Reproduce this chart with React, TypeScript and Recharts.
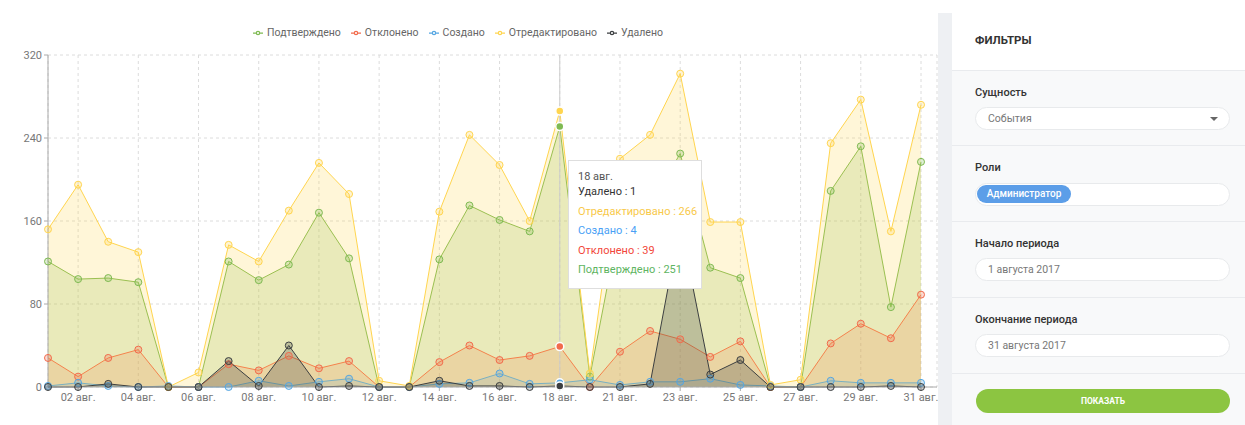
import React from "react";
import {
  Area,
  AreaChart,
  CartesianGrid,
  Legend,
  Tooltip,
  XAxis,
  YAxis,
} from "recharts";

const days = [
  "01 авг.", "02 авг.", "03 авг.", "04 авг.", "05 авг.", "06 авг.", "07 авг.", "08 авг.",
  "09 авг.", "10 авг.", "11 авг.", "12 авг.", "13 авг.", "14 авг.", "15 авг.", "16 авг.",
  "17 авг.", "18 авг.", "20 авг.", "21 авг.", "22 авг.", "23 авг.", "24 авг.", "25 авг.",
  "26 авг.", "27 авг.", "28 авг.", "29 авг.", "30 авг.", "31 авг.",
];
const tickDays = [
  "02 авг.", "04 авг.", "06 авг.", "08 авг.", "10 авг.", "12 авг.", "14 авг.", "16 авг.",
  "18 авг.", "21 авг.", "23 авг.", "25 авг.", "27 авг.", "29 авг.", "31 авг.",
];
const yTicks = [0, 80, 160, 240, 320];

const confirmed = [121, 104, 105, 101, 0, 0, 121, 103, 118, 168, 124, 0, 0, 123, 175, 161, 150, 251, 10, 160, 175, 225, 115, 105, 0, 0, 189, 232, 77, 217];
const rejected = [28, 10, 28, 36, 0, 0, 22, 16, 30, 18, 25, 0, 0, 24, 40, 26, 30, 39, 0, 34, 54, 46, 29, 44, 0, 0, 42, 61, 47, 89];
const created = [1, 4, 1, 0, 1, 0, 0, 6, 1, 5, 8, 0, 0, 3, 4, 13, 3, 4, 7, 2, 5, 5, 8, 2, 1, 0, 6, 4, 4, 4];
const edited = [152, 195, 140, 130, 0, 14, 137, 121, 170, 216, 186, 6, 1, 169, 243, 214, 160, 266, 13, 220, 243, 302, 159, 159, 2, 7, 235, 277, 150, 272];
const deleted = [0, 0, 3, 0, 0, 0, 25, 1, 40, 0, 1, 0, 0, 6, 1, 1, 0, 1, 0, 0, 3, 158, 12, 26, 0, 0, 0, 0, 1, 0];

// legend order; the tooltip lists them the other way round
const series = [
  { key: "confirmed", name: "Подтверждено", stroke: "#7fba52", text: "#5eb562", opacity: 0.22 },
  { key: "rejected", name: "Отклонено", stroke: "#f26b4c", text: "#f2473a", opacity: 0.2 },
  { key: "created", name: "Создано", stroke: "#55a6e2", text: "#4a9ff5", opacity: 0.2 },
  { key: "edited", name: "Отредактировано", stroke: "#ffd54f", text: "#f8c94a", opacity: 0.22 },
  { key: "deleted", name: "Удалено", stroke: "#3c3f41", text: "#333333", opacity: 0.25 },
];

const data = days.map((day, i) => ({
  day,
  confirmed: confirmed[i],
  rejected: rejected[i],
  created: created[i],
  edited: edited[i],
  deleted: deleted[i],
}));

const FONT = "Roboto, sans-serif";

function EventsTooltip({ active, payload, label }: any) {
  if (!active || !payload?.length) return null;
  const items = [...payload].reverse();
  return (
    <div
      style={{
        width: 134,
        boxSizing: "border-box",
        background: "#fff",
        border: "1px solid #dedede",
        padding: "10px 9px 8px",
        fontFamily: FONT,
        fontSize: 11,
        whiteSpace: "nowrap",
      }}
    >
      <div style={{ lineHeight: "11px", color: "#555" }}>{label}</div>
      {items.map((p: any) => {
        const s = series.find((x) => x.key === p.dataKey);
        return (
          <div key={p.dataKey} style={{ lineHeight: "19.5px", color: s?.text }}>
            {p.name} : {p.value}
          </div>
        );
      })}
    </div>
  );
}

function Field({ top, label, children }: { top: number; label: string; children: React.ReactNode }) {
  return (
    <>
      <div style={{ position: "absolute", left: 975, top: top - 7, fontSize: 11, fontWeight: 500, color: "#333", lineHeight: "14px" }}>
        {label}
      </div>
      {children}
    </>
  );
}

function Input({ top, children }: { top: number; children: React.ReactNode }) {
  return (
    <div
      style={{
        position: "absolute",
        left: 975,
        top,
        width: 255,
        height: 23,
        boxSizing: "border-box",
        background: "#fff",
        border: "1px solid #e8eaec",
        borderRadius: 12,
        fontSize: 10.5,
        color: "#777",
        lineHeight: "21px",
        paddingLeft: 12,
      }}
    >
      {children}
    </div>
  );
}

function FilterPanel() {
  const sep = (y: number) => (
    <div key={y} style={{ position: "absolute", left: 952, top: y, width: 293, height: 1, background: "#e9ebee" }} />
  );
  return (
    <div style={{ fontFamily: FONT }}>
      <div style={{ position: "absolute", left: 938, top: 13, width: 14, height: 412, background: "#eef0f3" }} />
      <div style={{ position: "absolute", left: 952, top: 13, width: 293, height: 57, background: "#fff" }} />
      <div style={{ position: "absolute", left: 952, top: 70, width: 293, height: 355, background: "#f8f9fa" }} />
      {[70, 145, 221, 297, 373].map(sep)}
      <div style={{ position: "absolute", left: 975, top: 33, fontSize: 11.5, fontWeight: 700, color: "#333", lineHeight: "14px" }}>
        ФИЛЬТРЫ
      </div>
      <Field top={93} label="Сущность">
        <Input top={107}>
          События
          <div
            style={{
              position: "absolute",
              right: 11,
              top: 9,
              width: 0,
              height: 0,
              borderLeft: "4px solid transparent",
              borderRight: "4px solid transparent",
              borderTop: "4px solid #666",
            }}
          />
        </Input>
      </Field>
      <Field top={168} label="Роли">
        <Input top={183}>{""}</Input>
        <div
          style={{
            position: "absolute",
            left: 977,
            top: 185,
            width: 94,
            height: 18,
            borderRadius: 9,
            background: "#5c9ee8",
            color: "#fff",
            fontSize: 10,
            fontWeight: 500,
            lineHeight: "18px",
            textAlign: "center",
          }}
        >
          Администратор
        </div>
      </Field>
      <Field top={244} label="Начало периода">
        <Input top={258}>1 августа 2017</Input>
      </Field>
      <Field top={320} label="Окончание периода">
        <Input top={334}>31 августа 2017</Input>
      </Field>
      <div
        style={{
          position: "absolute",
          left: 976,
          top: 389,
          width: 254,
          height: 24,
          borderRadius: 12,
          background: "#8cc541",
          color: "#fff",
          fontSize: 8.5,
          fontWeight: 700,
          lineHeight: "24px",
          textAlign: "center",
        }}
      >
        ПОКАЗАТЬ
      </div>
    </div>
  );
}

export default function App() {
  return (
    <div style={{ position: "absolute", left: 0, top: 0, width: 1245, height: 425, background: "#fff", fontFamily: FONT, overflow: "hidden" }}>
      <AreaChart
        width={940}
        height={425}
        data={data}
        margin={{ top: 26, right: 3, left: 0, bottom: 8 }}
        style={{ fontFamily: FONT }}
      >
        <CartesianGrid strokeDasharray="3 3" stroke="#dcdcdc" />
        <XAxis
          dataKey="day"
          ticks={tickDays}
          interval={0}
          padding={{ left: 0, right: 16 }}
          stroke="#aaa"
          tick={{ fill: "#777", fontSize: 11 }}
          tickSize={4}
        />
        <YAxis
          width={48}
          domain={[0, 320]}
          ticks={yTicks}
          stroke="#aaa"
          tick={{ fill: "#777", fontSize: 11 }}
          tickSize={4}
        />
        <Legend
          verticalAlign="top"
          height={29}
          iconSize={10}
          itemSorter={(item: any) => series.findIndex((s) => s.name === item.value)}
          wrapperStyle={{ left: 0, width: 926, fontSize: 10.5 }}
          formatter={(value: string) => <span style={{ color: "#666" }}>{value}</span>}
        />
        <Tooltip
          defaultIndex={17}
          active
          position={{ x: 568, y: 160 }}
          isAnimationActive={false}
          content={<EventsTooltip />}
          cursor={{ stroke: "#ccc", strokeWidth: 1 }}
        />
        {series.map((s) => (
          <Area
            key={s.key}
            type="linear"
            dataKey={s.key}
            name={s.name}
            stroke={s.stroke}
            strokeWidth={1}
            fill={s.stroke}
            fillOpacity={s.opacity}
            dot={{ r: 3.5, fill: s.stroke, fillOpacity: 0.25, stroke: s.stroke, strokeWidth: 1 }}
            activeDot={{ r: 4, fill: s.stroke, stroke: "#fff", strokeWidth: 1.5 }}
            isAnimationActive={false}
          />
        ))}
      </AreaChart>
      <FilterPanel />
    </div>
  );
}
